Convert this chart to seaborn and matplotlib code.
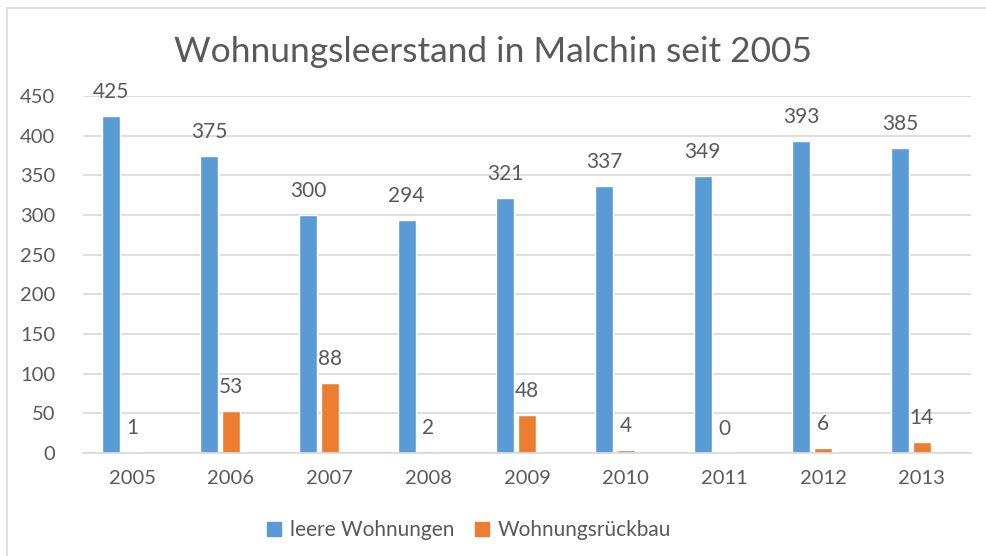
import matplotlib
matplotlib.use("Agg")
import matplotlib.pyplot as plt
import seaborn as sns
import pandas as pd
import numpy as np
from matplotlib.lines import Line2D
from matplotlib.patches import Patch

years = ["2005", "2006", "2007", "2008", "2009", "2010", "2011", "2012", "2013"]
leere = [425, 375, 300, 294, 321, 337, 349, 393, 385]
rueckbau = [1, 53, 88, 2, 48, 4, 0, 6, 14]
series = ["leere Wohnungen", "Wohnungsrückbau", "_leer"]

# third, empty series keeps the excel-like offset of the bars
df = pd.DataFrame({
    "Jahr": years * 3,
    "Wert": leere + rueckbau + [np.nan] * len(years),
    "Serie": [series[0]] * 9 + [series[1]] * 9 + [series[2]] * 9,
})

sns.set_theme(style="white")
plt.rcParams['font.family'] = ['Lato', 'DejaVu Sans']
txt = "#595959"
colors = {"leere Wohnungen": "#5B9BD5", "Wohnungsrückbau": "#ED7D31", "_leer": "#A5A5A5"}

fig = plt.figure(figsize=(9.87, 5.56), dpi=100)
ax = fig.add_axes([83/987, 1-453/556, (971-83)/987, (453-96)/556])

sns.barplot(data=df, x="Jahr", y="Wert", hue="Serie", hue_order=series,
            palette=colors, width=0.66, gap=0.17, ax=ax, legend=False,
            saturation=1, errorbar=None)

for c in ax.containers[:2]:
    ax.bar_label(c, fmt="%d", padding=10, fontsize=15, color=txt)

ax.set_ylim(0, 450)
ax.set_yticks(range(0, 451, 50))
ax.set_xlim(-0.5, 8.5)
ax.yaxis.grid(True, color="#D9D9D9", linewidth=1.2)
ax.set_axisbelow(True)
for s in ax.spines.values():
    s.set_visible(False)
ax.spines["bottom"].set_visible(True)
ax.spines["bottom"].set_color("#D9D9D9")
ax.tick_params(axis="y", labelsize=14.5, colors=txt, length=0, pad=20)
ax.tick_params(axis="x", labelsize=14.5, colors=txt, length=0, pad=12)
ax.set_xlabel("")
ax.set_ylabel("")

fig.suptitle("Wohnungsleerstand in Malchin seit 2005", y=0.935, fontsize=25.5,
             color=txt)

handles = [Patch(color=colors[s]) for s in series[:2]]
fig.legend(handles, series[:2], loc="center", bbox_to_anchor=(0.475, 0.046),
           ncol=2, frameon=False, fontsize=15, labelcolor=txt,
           handlelength=0.7, handleheight=0.7, columnspacing=1.0, handletextpad=0.4)

# outer chart frame (top/left visible in the reference)
fig.add_artist(Line2D([7/987, 7/987], [0, 1-8/556], color="#D9D9D9", lw=1.2))
fig.add_artist(Line2D([7/987, 1], [1-8/556, 1-8/556], color="#D9D9D9", lw=1.2))

fig.savefig("out.png", dpi=100)
